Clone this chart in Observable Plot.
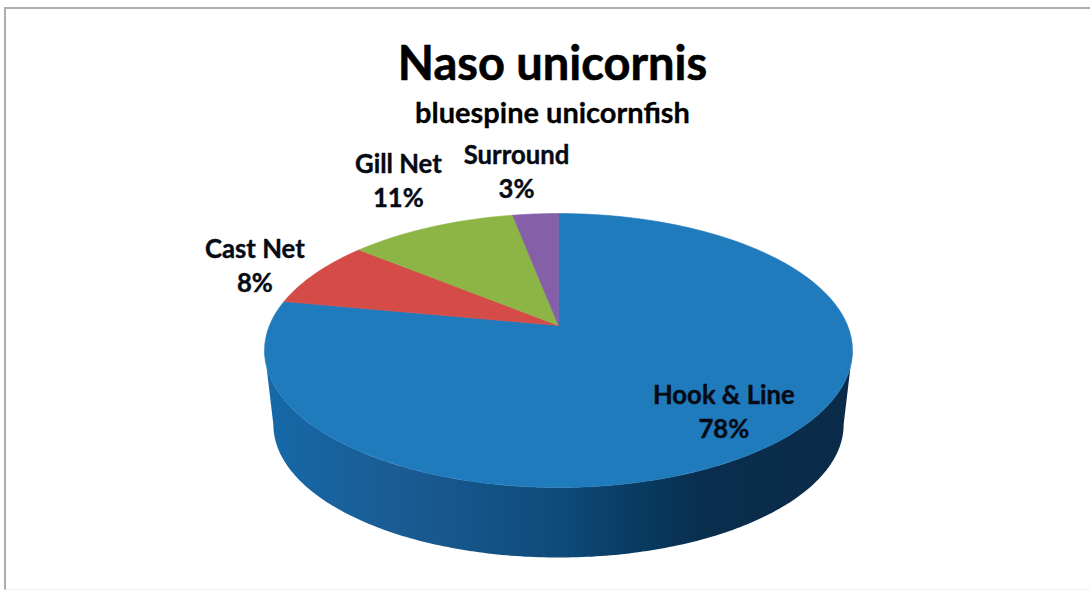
<!DOCTYPE html>
<html>
<head>
<meta charset="utf-8">
<script src="https://cdn.jsdelivr.net/npm/d3@7"></script>
<script src="https://cdn.jsdelivr.net/npm/@observablehq/plot@0.6"></script>
<style>
  html, body { margin: 0; padding: 0; background: #fff; overflow: hidden; }
  body { width: 1090px; height: 594px; position: relative; font-family: Lato, "Open Sans", sans-serif; }
  #frame { position: absolute; left: 4px; top: 7px; width: 1200px; height: 583px; box-sizing: border-box;
           border-left: 2px solid #aeaeae; border-top: 2px solid #aeaeae; border-bottom: 1px solid #f1f1f1; pointer-events: none; z-index: 2; }
  #head { height: 130px; width: 1104px; text-align: center; color: #000; font-weight: 700; }
  #title { position: absolute; left: 0; width: 1105px; top: 36px; font-size: 47px; line-height: 52px; -webkit-text-stroke: 0.6px #000; }
  #sub { position: absolute; left: 0; width: 1105px; top: 95px; font-size: 29px; line-height: 34px; -webkit-text-stroke: 0.3px #000; }
  #chart { position: absolute; left: 0; top: 130px; }
  #chart svg { display: block; background: transparent; }
</style>
</head>
<body>
<div id="frame"></div>
<div id="head">
  <div id="title">Naso unicornis</div>
  <div id="sub">bluespine unicornfish</div>
</div>
<div id="chart"></div>
<script>
const categories = ["Hook & Line", "Cast Net", "Gill Net", "Surround"];
const shares = [78, 8, 11, 3];
const sliceColors = ["#207bbd", "#d44b48", "#8db546", "#8560a8"];
const sideStopOffsets = [0, 0.22, 0.5, 0.63, 0.75, 1];
const sideStopColors = ["#1569a8", "#1a5c94", "#0f4b7a", "#083b62", "#0a2e4e", "#0a2a48"];

// Pie tilt: perspective factor, and how far the base sits below and inside the top face.
const tilt = 0.1825;
const baseScale = 0.97;
const baseDrop = 0.566;

const project = (turn, r = 1) => {
  const a = turn * 2 * Math.PI;
  const u = r * Math.sin(a), v = r * Math.cos(a), d = 1 + tilt * v;
  return {X: u / d, Y: v / d};
};

// Slices from the values, clockwise from twelve o'clock.
const total = d3.sum(shares);
let acc = 0;
const slices = categories.map((name, i) => {
  const start = acc / total;
  acc += shares[i];
  return {name, share: shares[i], start, end: acc / total, mid: (start + (acc / total)) / 2};
});

const topPoints = slices.flatMap(s => {
  const n = Math.max(4, Math.ceil((s.end - s.start) * 360));
  const arc = d3.range(n + 1).map(j => project(s.start + (s.end - s.start) * j / n));
  return [{X: 0, Y: 0}, ...arc, {X: 0, Y: 0}].map(p => ({...p, name: s.name}));
});

// The side wall runs between the two rim points where the top face is widest.
const widest = Math.acos(-tilt) / (2 * Math.PI);
const sideTurns = d3.range(0, 201).map(j => widest + (1 - 2 * widest) * j / 200);
const sidePoints = [
  ...sideTurns.map(t => project(t)),
  ...sideTurns.slice().reverse().map(t => {
    const p = project(t);
    return {X: p.X * baseScale, Y: p.Y * baseScale - baseDrop};
  })
];

const labelSpots = slices.map(s => ({...s, ...project(s.mid), text: `${s.name}\n${s.share}%`}));
// Label nudges relative to the rim point of each slice, in pixels.
const nudges = {
  "Hook & Line": [-49, -34],
  "Cast Net": [-61, -9],
  "Gill Net": [-33, -48],
  "Surround": [-19, -44]
};

const gradient = () => {
  const defs = d3.create("svg:defs");
  const g = defs.append("linearGradient").attr("id", "sideFill").attr("x1", 0).attr("x2", 1).attr("y1", 0).attr("y2", 0);
  sideStopOffsets.forEach((o, i) => g.append("stop").attr("offset", o).attr("stop-color", sideStopColors[i]));
  return defs.node();
};

const plot = Plot.plot({
  width: 1090,
  height: 464,
  margin: 0,
  x: {domain: [-1, 1], range: [269, 847], axis: null},
  y: {domain: [-1, 1], range: [327.4, 62.6], axis: null},
  color: {domain: categories, range: sliceColors},
  style: {background: "transparent"},
  marks: [
    gradient,
    Plot.line(sidePoints, {x: "X", y: "Y", fill: "url(#sideFill)", stroke: "none"}),
    Plot.line(topPoints, {x: "X", y: "Y", z: "name", fill: "name", stroke: "name", strokeWidth: 0.6}),
    ...labelSpots.map(d => Plot.text([d], {
      x: "X", y: "Y", text: "text",
      dx: nudges[d.name][0], dy: nudges[d.name][1],
      fontFamily: "Lato, 'Open Sans', sans-serif",
      fontWeight: 700, fontSize: 25.7, lineHeight: 1.32,
      fill: "#050a14", stroke: "#050a14", strokeWidth: 0.4,
      lineAnchor: "middle", textAnchor: "middle"
    }))
  ]
});
document.getElementById("chart").appendChild(plot);
</script>
</body>
</html>
